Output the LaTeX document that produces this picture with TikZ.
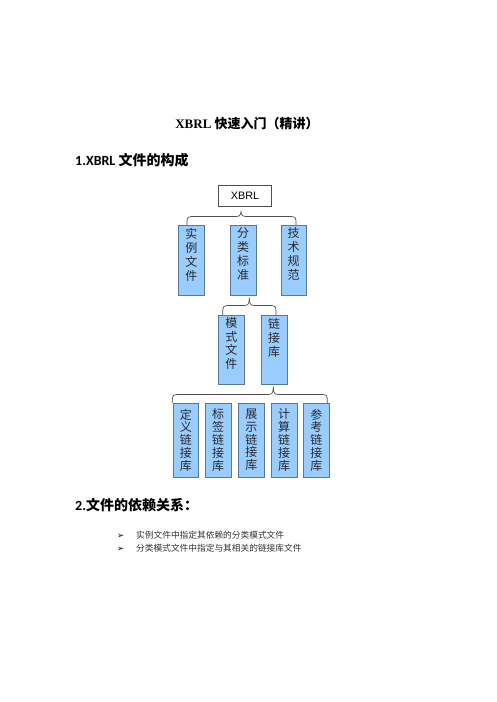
\documentclass[tikz,border=0pt]{standalone}
\usepackage{fontspec}
\setmainfont{Liberation Serif}
\newfontfamily\cjk{Noto Sans CJK SC}
\newfontfamily\carl{Carlito}
\newfontfamily\arialf{Liberation Sans}
\newfontfamily\dejavu{DejaVu Sans}
\definecolor{boxfill}{HTML}{99CCFF}
\definecolor{boxline}{HTML}{5A7896}
\definecolor{connline}{HTML}{505050}
\definecolor{txtgray}{HTML}{2A2A2A}
\definecolor{bulgray}{HTML}{333333}
% vertical text: height, pitch, top offset, text
\newcommand\vtx[4]{\parbox[c][#1pt][t]{20pt}{\cjk\fontsize{12}{#2}\selectfont\centering\vspace*{#3pt}#4\par}}
\newcommand\bracecon[6]{% L R tipx tipy hy endy
  \draw[conn] (#1,#6) .. controls (#1,#5) .. (#1+8,#5) -- (#3-5,#5)
    .. controls (#3-1,#5) and (#3,#5-2) .. (#3,#4)
    .. controls (#3,#5-2) and (#3+1,#5) .. (#3+5,#5) -- (#2-8,#5)
    .. controls (#2,#5) .. (#2,#6);}
\begin{document}
\begin{tikzpicture}[x=1pt,y=-1pt,
  box/.style={draw=boxline,line width=0.8pt,fill=boxfill,inner sep=0pt,minimum width=25.5pt,anchor=north west,text=txtgray},
  topbox/.style={draw=connline,line width=0.8pt,fill=white,inner sep=0pt,minimum width=53.4pt,minimum height=21pt,font=\arialf\fontsize{10.8}{12}\selectfont},
  conn/.style={draw=connline,line width=0.7pt},
  plain/.style={inner sep=0pt,anchor=base west}]
\useasboundingbox (0,0) rectangle (496,702);
\fill[white] (0,0) rectangle (496,702);
% title and headings
\node[inner sep=0pt,anchor=base] (title) at (247,128) {\fontsize{13}{15}\selectfont\bfseries XBRL {\cjk\bfseries 快速入门（精讲）}};
\node[plain] (h1) at (75,165.3) {\fontsize{14}{16}\selectfont{\carl\bfseries 1.XBRL }{\cjk\bfseries 文件的构成}};
\node[plain] (h2) at (75,510.3) {\fontsize{14}{16}\selectfont{\carl\bfseries 2.}{\cjk\bfseries 文件的依赖关系：}};
% XBRL box
\node[topbox] (xbrl) at (245,195.5) {XBRL};
% row 1
\node[box] (shili) at (178.3,225) {\vtx{70}{14}{2.5}{实\\例\\文\\件}};
\node[box] (fenlei) at (230,225) {\vtx{70}{14}{2.5}{分\\类\\标\\准}};
\node[box] (jishu) at (280.5,225) {\vtx{70}{14}{2.5}{技\\术\\规\\范}};
% row 2
\node[box] (moshi) at (218.3,315) {\vtx{69}{13.4}{2.5}{模\\式\\文\\件}};
\node[box] (lianjie) at (261,315) {\vtx{69}{14}{2.5}{链\\接\\库}};
% row 3
\node[box] (dingyi) at (172.7,403) {\vtx{74}{12.8}{5.5}{定\\义\\链\\接\\库}};
\node[box] (biaoqian) at (205,403) {\vtx{74}{12.8}{5.5}{标\\签\\链\\接\\库}};
\node[box] (zhanshi) at (238.3,403) {\vtx{74}{12.8}{5.5}{展\\示\\链\\接\\库}};
\node[box] (jisuan) at (271,403) {\vtx{74}{12.8}{5.5}{计\\算\\链\\接\\库}};
\node[box] (cankao) at (303.3,403) {\vtx{74}{12.8}{5.5}{参\\考\\链\\接\\库}};
% brace connectors
\bracecon{187}{296}{241}{210.8}{216.5}{225}
\bracecon{222.7}{276}{249.3}{297.5}{305.5}{315}
\bracecon{172.3}{327.3}{273.3}{386.5}{394.5}{403}
% bullets
\node[plain] (b1m) at (117,538.6) {\dejavu\fontsize{8.5}{9}\selectfont\color{black}➢};
\node[plain,text=bulgray] (b1) at (136,538.3) {\cjk\fontsize{8.7}{10}\selectfont 实例文件中指定其依赖的分类模式文件};
\node[plain] (b2m) at (117,551.6) {\dejavu\fontsize{8.5}{9}\selectfont\color{black}➢};
\node[plain,text=bulgray] (b2) at (136,551.3) {\cjk\fontsize{8.7}{10}\selectfont 分类模式文件中指定与其相关的链接库文件};
\end{tikzpicture}
\end{document}
